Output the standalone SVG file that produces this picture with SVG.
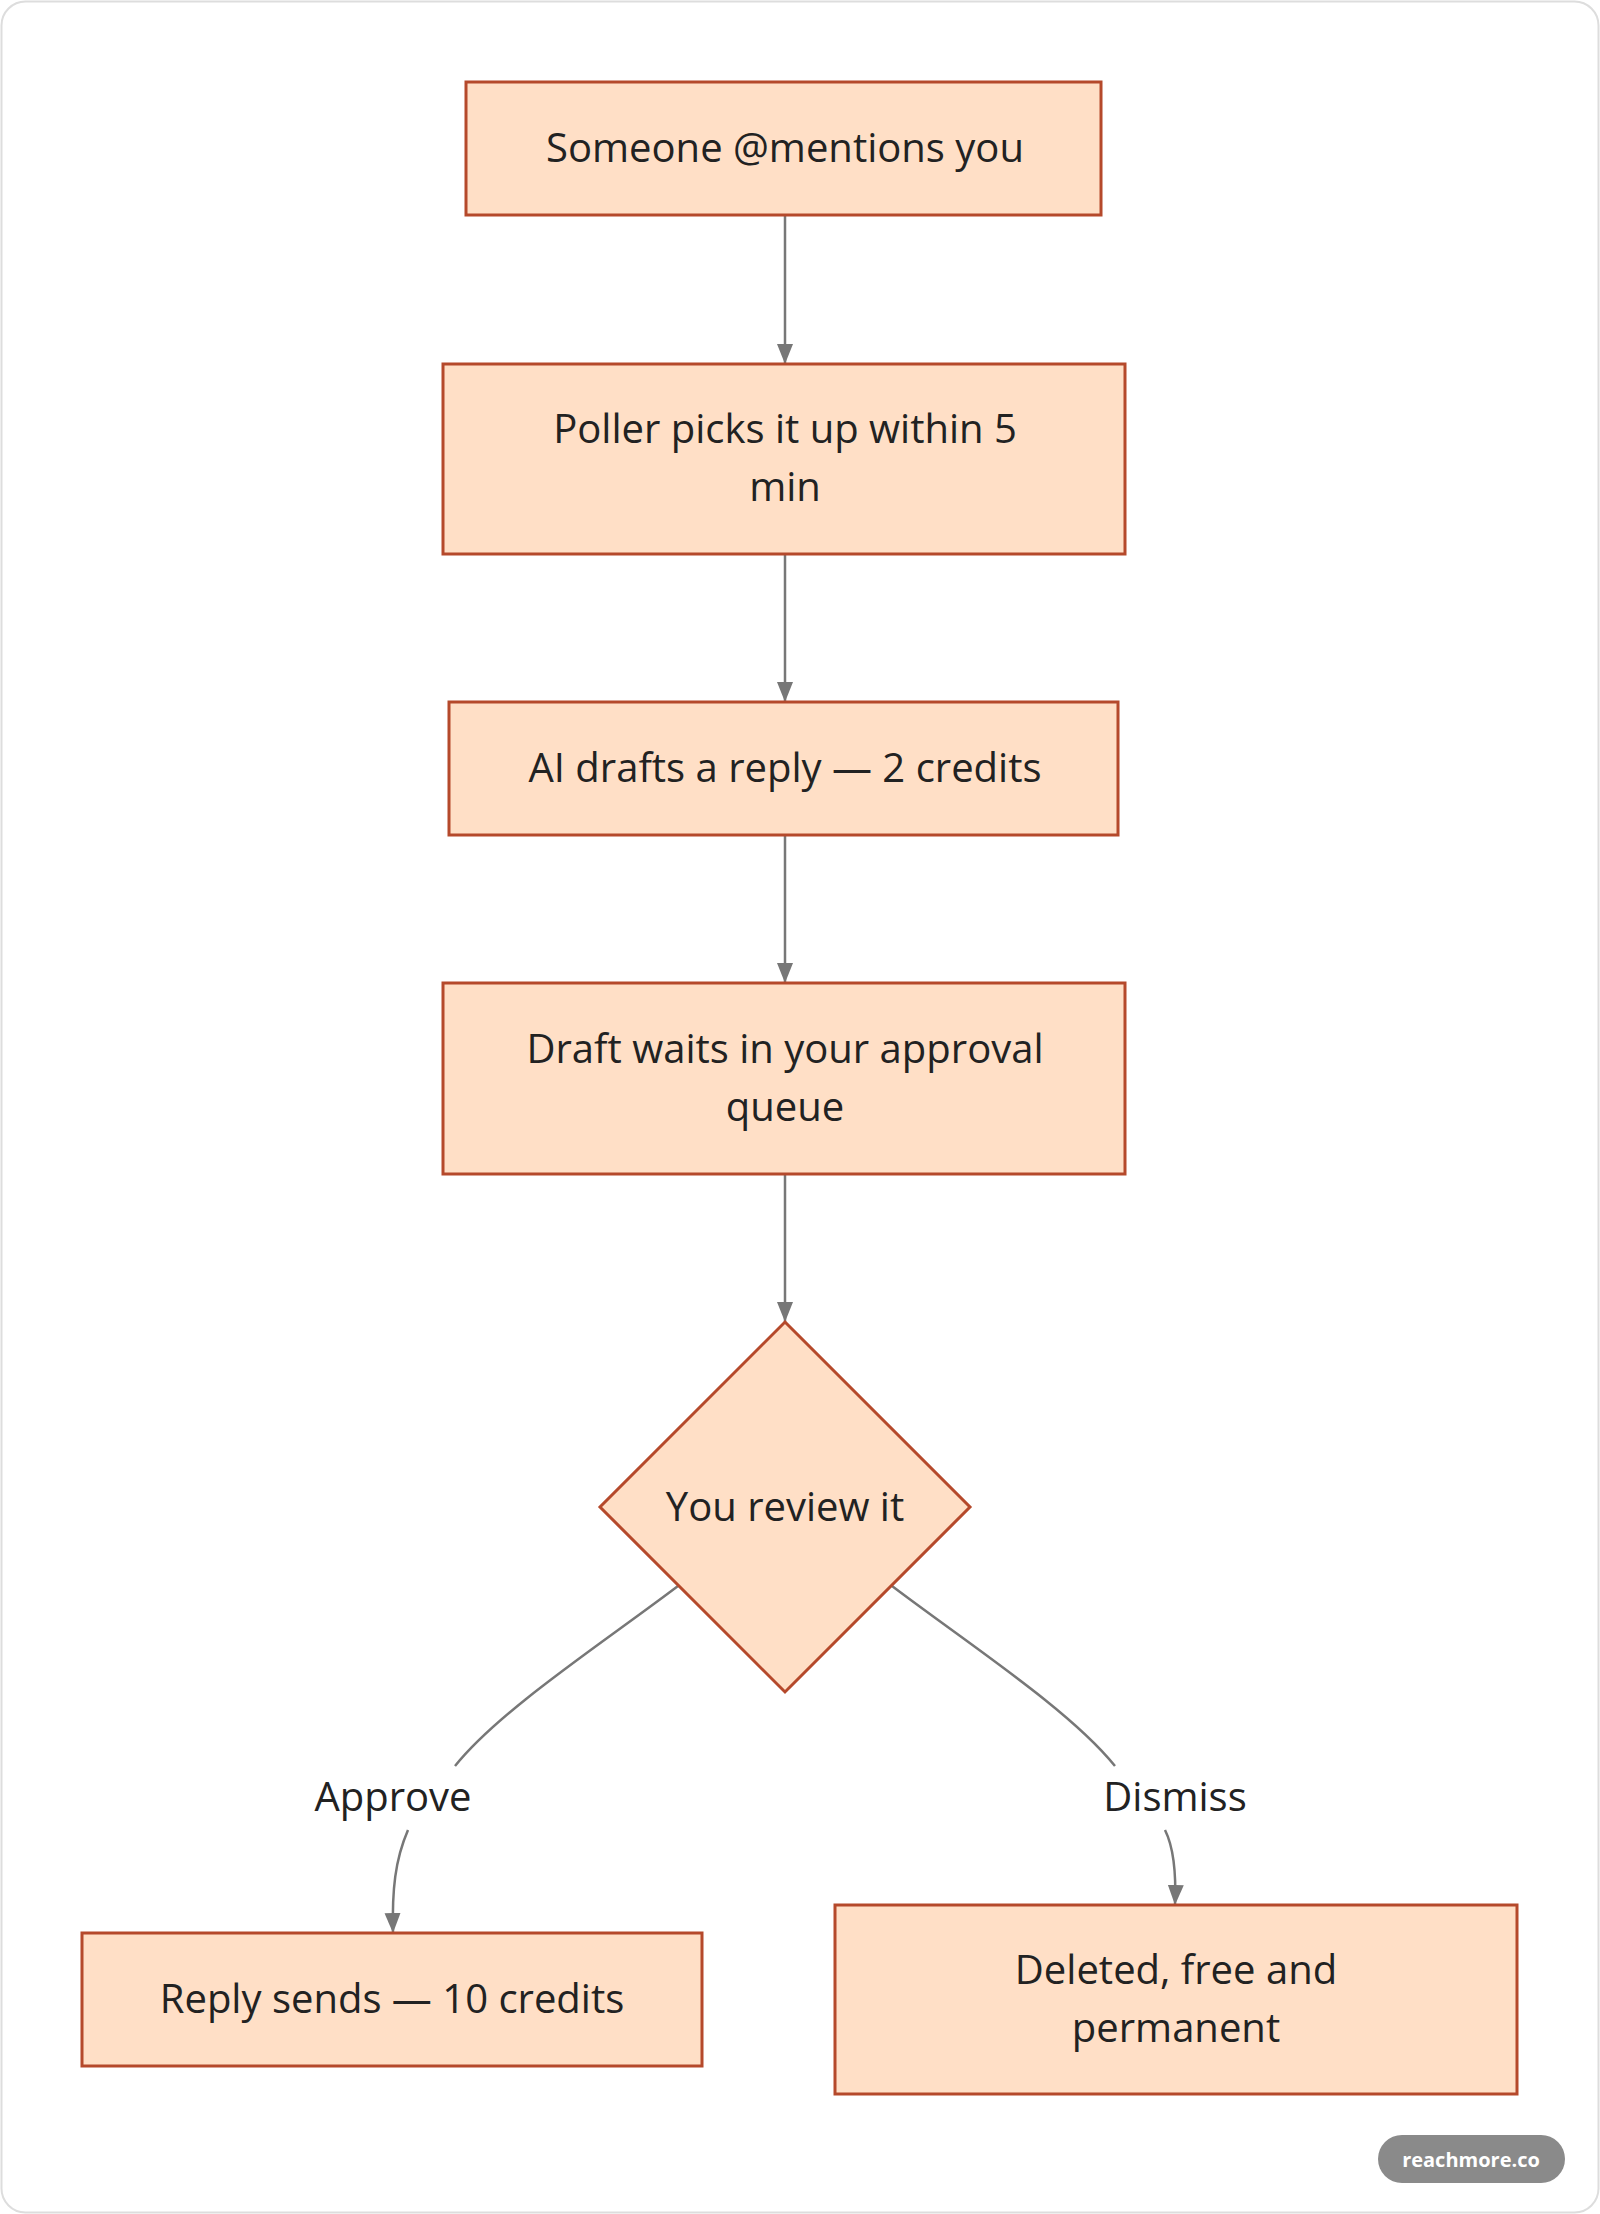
<svg xmlns="http://www.w3.org/2000/svg" width="1600" height="2214" viewBox="0 0 1600 2214">
<style>
.n{fill:#FFDFC6;stroke:#B5492B;stroke-width:3}
.t{font-family:"Open Sans","Noto Sans",sans-serif;font-size:40px;fill:#222;text-anchor:middle}
.e{fill:none;stroke:#777;stroke-width:2.5}
</style>
<defs><marker id="a" viewBox="0 0 10 10" refX="10" refY="5" markerWidth="20" markerHeight="20" markerUnits="userSpaceOnUse" orient="auto"><path d="M0,1L10,5L0,9z" fill="#777"/></marker></defs>
<rect x="1.5" y="1.5" width="1597" height="2211" rx="24" fill="#fff" stroke="#ddd" stroke-width="2"/>
<g id="edges">
<path class="e" d="M785,215V364" marker-end="url(#a)"/>
<path class="e" d="M785,554V702" marker-end="url(#a)"/>
<path class="e" d="M785,835V983" marker-end="url(#a)"/>
<path class="e" d="M785,1174V1322" marker-end="url(#a)"/>
<path class="e" d="M678,1586C600,1645 500,1710 455,1766"/>
<path class="e" d="M408,1830C395,1860 392,1890 393,1933" marker-end="url(#a)"/>
<path class="e" d="M892,1586C970,1645 1070,1710 1115,1766"/>
<path class="e" d="M1165,1830C1175,1850 1176,1880 1175,1905" marker-end="url(#a)"/>
<text class="t" x="393" y="1811">Approve</text>
<text class="t" x="1175" y="1811">Dismiss</text>
</g>
<g id="n1"><rect class="n" x="466" y="82" width="635" height="133"/><text class="t" x="785" y="162">Someone @mentions you</text></g>
<g id="n2"><rect class="n" x="443" y="364" width="682" height="190"/><text class="t" x="785" y="443">Poller picks it up within 5</text><text class="t" x="785" y="501">min</text></g>
<g id="n3"><rect class="n" x="449" y="702" width="669" height="133"/><text class="t" x="785" y="782">AI drafts a reply — 2 credits</text></g>
<g id="n4"><rect class="n" x="443" y="983" width="682" height="191"/><text class="t" x="785" y="1063">Draft waits in your approval</text><text class="t" x="785" y="1121">queue</text></g>
<g id="n5"><polygon class="n" points="785,1322 970,1507 785,1692 600,1507"/><text class="t" x="785" y="1521">You review it</text></g>
<g id="n6"><rect class="n" x="82" y="1933" width="620" height="133"/><text class="t" x="392" y="2013">Reply sends — 10 credits</text></g>
<g id="n7"><rect class="n" x="835" y="1905" width="682" height="189"/><text class="t" x="1176" y="1984">Deleted, free and</text><text class="t" x="1176" y="2042">permanent</text></g>
<g id="badge"><rect x="1378" y="2135" width="187" height="48" rx="24" fill="#8a8a8a"/><text x="1471" y="2167" font-family="'Open Sans',sans-serif" font-size="20" font-weight="bold" fill="#fff" text-anchor="middle">reachmore.co</text></g>
</svg>
